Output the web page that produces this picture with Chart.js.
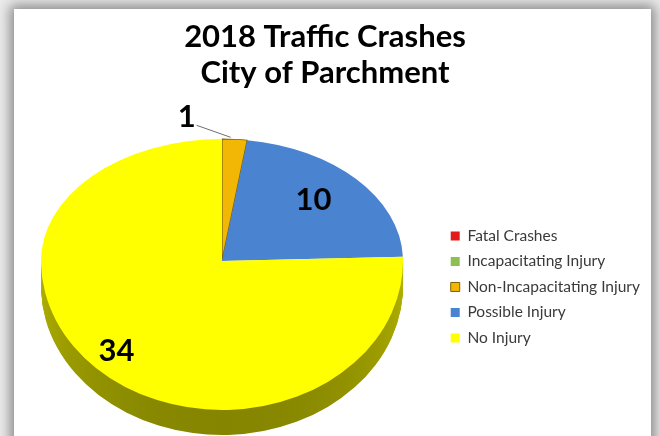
<!DOCTYPE html>
<html>
<head>
<meta charset="utf-8">
<script src="https://cdn.jsdelivr.net/npm/chart.js@4.4.1/dist/chart.umd.min.js"></script>
<style>
  html, body { margin: 0; padding: 0; width: 660px; height: 436px; overflow: hidden; background: #ececec; }
  #panel { position: absolute; left: 14px; top: 9px; width: 637px; height: 440px; background: #fff;
           box-shadow: 0 0 12px 4px rgba(0, 0, 0, 0.42); }
  #pieChart { position: absolute; left: 0; top: 0; }
</style>
</head>
<body>
<div id="panel"></div>
<canvas id="pieChart" width="660" height="436"></canvas>
<script>
var titleLines = ['2018 Traffic Crashes', 'City of Parchment'];
var categories = ['Fatal Crashes', 'Incapacitating Injury', 'Non-Incapacitating Injury', 'Possible Injury', 'No Injury'];
var crashCounts = [0, 0, 1, 10, 34];
var sliceColors = ['#e31a1c', '#8cc152', '#f2b705', '#4a84d0', '#ffff00'];
var sliceBorders = ['#e31a1c', '#8cc152', '#7f6000', '#4a84d0', '#ffff00'];
var sliceBorderWidths = [0, 0, 1, 0, 0];

// darken a #rrggbb colour by factor f
function shade(hex, f) {
  var n = parseInt(hex.slice(1), 16);
  var r = Math.round(((n >> 16) & 255) * f), g = Math.round(((n >> 8) & 255) * f), b = Math.round((n & 255) * f);
  return 'rgb(' + r + ',' + g + ',' + b + ')';
}

// squash the pie into a tilted disc with a visible rim, then write the value labels
var pie3d = {
  id: 'pie3d',
  beforeDatasetsDraw: function(chart, args, opts) {
    var ctx = chart.ctx;
    var meta = chart.getDatasetMeta(0);
    var W = chart.width, H = chart.height;
    var R = meta.data[0].outerRadius, mx = meta.data[0].x, my = meta.data[0].y;
    var sx = opts.rx / R;
    function place(k, dy) {
      ctx.setTransform(sx, 0, 0, k, opts.cx - mx * sx, opts.cy + dy - my * k);
    }
    var kUp = opts.ryTop / R, kDown = opts.ryBottom / R;

    // rim
    for (var d = opts.depth; d >= 1; d--) {
      ctx.save();
      ctx.beginPath();
      ctx.rect(0, opts.cy + d, W, H);
      ctx.clip();
      place(kDown, d);
      meta.data.forEach(function(el, i) {
        if (el.endAngle - el.startAngle <= 0) return;
        var grad = ctx.createLinearGradient(mx, my, mx, my + R);
        grad.addColorStop(0, shade(sliceColors[i], 0.70));
        grad.addColorStop(1, shade(sliceColors[i], 0.52));
        ctx.fillStyle = grad;
        ctx.beginPath();
        ctx.moveTo(el.x, el.y);
        ctx.arc(el.x, el.y, R, el.startAngle, el.endAngle);
        ctx.closePath();
        ctx.fill();
      });
      ctx.restore();
    }

    // top face: back half flatter than front half
    [[0, opts.cy, kUp], [opts.cy, H, kDown]].forEach(function(p) {
      ctx.save();
      ctx.beginPath();
      ctx.rect(0, p[0], W, p[1] - p[0]);
      ctx.clip();
      place(p[2], 0);
      meta.data.forEach(function(el) { el.draw(ctx); });
      ctx.restore();
    });
    return false;
  },
  afterDraw: function(chart, args, opts) {
    var ctx = chart.ctx;
    var meta = chart.getDatasetMeta(0);
    var total = crashCounts.reduce(function(a, b) { return a + b; }, 0);
    ctx.save();
    ctx.font = 'bold 31px Lato';
    ctx.fillStyle = '#000';
    ctx.textAlign = 'center';
    ctx.textBaseline = 'middle';
    meta.data.forEach(function(el, i) {
      var v = crashCounts[i];
      if (!v) return;
      var mid = (el.startAngle + el.endAngle) / 2;
      var c = Math.cos(mid), s = Math.sin(mid);
      var ry = s < 0 ? opts.ryTop : opts.ryBottom;
      if (v / total < 0.05) {
        var ex = opts.cx + opts.rx * c, ey = opts.cy + ry * s;
        ctx.strokeStyle = '#6e6e6e';
        ctx.lineWidth = 1;
        ctx.beginPath();
        ctx.moveTo(ex - 38, ey - 14);
        ctx.lineTo(ex - 4, ey - 2);
        ctx.stroke();
        ctx.fillText(String(v), ex - 48, ey - 22);
      } else {
        var f = s < 0 ? 0.68 : 0.84;
        ctx.fillText(String(v), opts.cx + opts.rx * c * f, opts.cy + ry * s * f - (s < 0 ? 5 : 0));
      }
    });
    ctx.restore();
  }
};

// legend text width decides how far the legend sits from the right edge
var legendPad = 10, legendFont = 15.5, legendBox = 9;
var mctx = document.createElement('canvas').getContext('2d');
mctx.font = legendFont + 'px Lato';
var maxW = Math.max.apply(null, categories.map(function(t) { return mctx.measureText(t).width; }));
var legendLeft = 451 - legendPad;
var padRight = Math.max(0, Math.round(660 - (legendLeft + 2 * legendPad + legendBox + legendFont / 2 + maxW)));
var padLeft = Math.max(0, padRight - 12);

new Chart(document.getElementById('pieChart').getContext('2d'), {
  type: 'pie',
  data: {
    labels: categories,
    datasets: [{
      data: crashCounts,
      backgroundColor: sliceColors,
      borderColor: sliceBorders,
      borderWidth: sliceBorderWidths
    }]
  },
  options: {
    responsive: false,
    animation: false,
    devicePixelRatio: 1,
    layout: { padding: { left: padLeft, right: padRight, top: 0, bottom: 0 } },
    plugins: {
      title: {
        display: true,
        text: titleLines,
        color: '#000',
        font: { family: 'Lato', size: 31, weight: 'bold', lineHeight: 1.16 },
        padding: { top: 19, bottom: 47 }
      },
      legend: {
        position: 'right',
        fullSize: false,
        align: 'center',
        labels: {
          boxWidth: legendBox,
          boxHeight: legendBox,
          padding: legendPad,
          color: '#3a3a3a',
          font: { family: 'Lato', size: legendFont }
        }
      },
      tooltip: { enabled: false },
      pie3d: { cx: 222, cy: 261, rx: 181, ryTop: 122, ryBottom: 149, depth: 25 }
    }
  },
  plugins: [pie3d]
});
</script>
</body>
</html>
